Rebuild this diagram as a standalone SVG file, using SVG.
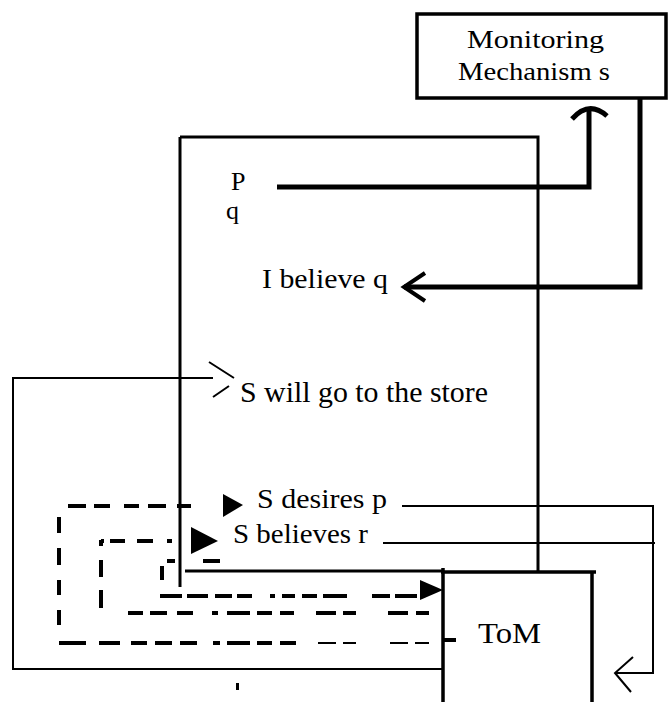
<svg xmlns="http://www.w3.org/2000/svg" width="669" height="704" viewBox="0 0 669 704">
<style>
.t{font-family:"Liberation Serif","Times New Roman",serif;fill:#000;}
.box{fill:none;stroke:#000;stroke-width:3.5;}
.thick{fill:none;stroke:#000;stroke-width:5;stroke-linejoin:miter;}
.med{fill:none;stroke:#000;stroke-width:3;}
.thin{fill:none;stroke:#000;stroke-width:2;}
.dash{fill:none;stroke:#000;stroke-width:4;}
.dthin{fill:none;stroke:#000;stroke-width:2.2;}
.tri{fill:#000;stroke:none;}
</style>
<rect width="669" height="704" fill="#fff"/>
<g id="connectors">
  <path class="med" d="M180 137 H538 V572"/>
  <path class="med" d="M180 137 V587"/>
  <path class="med" d="M185 571 H443"/>
  <path class="thick" d="M277 187 H589 V108"/>
  <path class="thick" d="M572 119 Q589 100 607 116"/>
  <path class="thick" d="M640 98 V287 H404"/>
  <path class="med" d="M425 273 L404 287 L425 301" style="stroke-width:4"/>
  <path class="thin" d="M443 669 H13 V378 H213"/>
  <path class="thin" d="M209 362 L234 378 M213 397 L229 386"/>
  <path class="thin" d="M402 506 H653 V673 H615"/>
  <path class="thin" d="M383 543 H655"/>
  <path class="thin" d="M633 657 L615 673 L631 692"/>
  <path class="dash" d="M68 506 H86 M94 506 H110 M124 506 H139 M148 506 H166 M177 506 H191"/>
  <path class="dash" d="M59 517 V533 M59 548 V565 M59 580 V595 M59 610 V625"/>
  <path class="dash" d="M59 643 H86 M99 643 H120 M131 643 H147 M155 643 H172 M180 643 H197 M213 643 H220 M227 643 H250 M257 643 H272 M280 643 H296"/>
  <path class="dthin" d="M318 643 H336 M343 643 H356 M390 643 H408 M415 643 H429"/>
  <polygon class="tri" points="223,494 243,505 223,517"/>
  <path class="dash" d="M101 541 H104 M110 541 H125 M137 541 H153 M167 541 H172"/>
  <path class="dash" d="M101 540 V546 M101 560 V577 M101 590 V608"/>
  <path class="dash" d="M128 613 H143 M150 613 H167 M177 613 H193 M212 613 H218 M227 613 H250 M257 613 H272 M280 613 H294 M316 613 H336 M343 613 H356 M388 613 H408 M416 613 H429"/>
  <polygon class="tri" points="191,527 218,541 191,554"/>
  <path class="dash" d="M167 561 H175 M203 561 H220"/>
  <path class="dash" d="M162 566 V580"/>
  <path class="dash" d="M160 596 H182 M187 596 H208 M215 596 H232 M237 596 H252 M270 596 H275 M282 596 H295 M302 596 H317 M323 596 H347 M372 596 H390 M395 596 H417"/>
  <polygon class="tri" points="420,580 443,590 420,600"/>
  <path class="dash" d="M443 640 H456"/>
  <rect x="236" y="683" width="3" height="7" fill="#000"/>
</g>
<g id="monitoring">
  <rect class="box" x="417" y="14" width="249" height="84"/>
  <text class="t" x="467" y="48" font-size="25" textLength="137" lengthAdjust="spacingAndGlyphs">Monitoring</text>
  <text class="t" x="458" y="80" font-size="25" textLength="152" lengthAdjust="spacingAndGlyphs">Mechanism s</text>
</g>
<g id="tom">
  <path class="box" d="M443 568 V702 M441 572 H596 M592 572 V702"/>
  <text class="t" x="478" y="643" font-size="30" textLength="63" lengthAdjust="spacingAndGlyphs">ToM</text>
</g>
<g id="p-label"><text class="t" x="231" y="190" font-size="26">P</text></g>
<g id="q-label"><text class="t" x="226" y="219" font-size="26">q</text></g>
<g id="believe-q"><text class="t" x="262" y="288" font-size="27" textLength="126" lengthAdjust="spacingAndGlyphs">I believe q</text></g>
<g id="go-store"><text class="t" x="240" y="402" font-size="30" textLength="248" lengthAdjust="spacingAndGlyphs">S will go to the store</text></g>
<g id="desires-p"><text class="t" x="257" y="508" font-size="27" textLength="130" lengthAdjust="spacingAndGlyphs">S desires p</text></g>
<g id="believes-r"><text class="t" x="233" y="543" font-size="27" textLength="135" lengthAdjust="spacingAndGlyphs">S believes r</text></g>
</svg>
